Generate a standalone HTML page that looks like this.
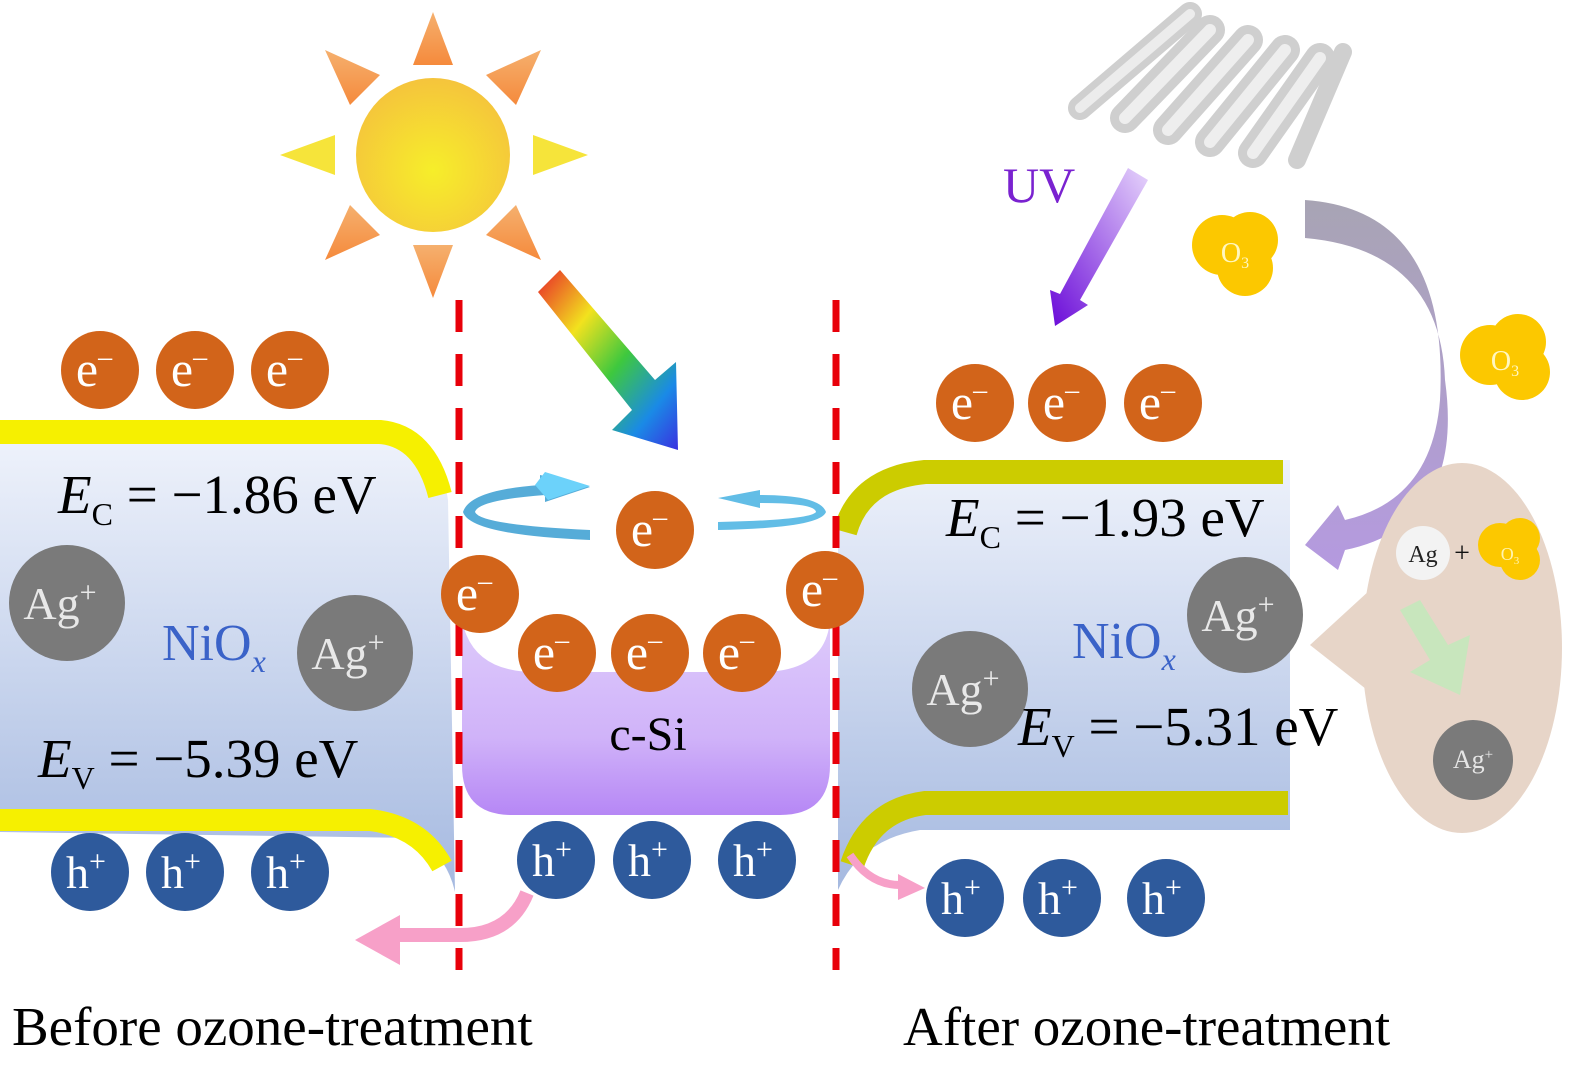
<!DOCTYPE html>
<html><head><meta charset="utf-8"><style>
html,body{margin:0;padding:0;background:#fff;}
svg{display:block;}
text{font-family:"Liberation Serif",serif;}
</style></head><body>
<svg width="1573" height="1065" viewBox="0 0 1573 1065" xmlns="http://www.w3.org/2000/svg">
<defs>
<linearGradient id="blue" x1="0" y1="0" x2="0" y2="1"><stop offset="0" stop-color="#eef2fb"/><stop offset="1" stop-color="#a5b9e0"/></linearGradient>
<linearGradient id="purp" x1="0" y1="0" x2="0" y2="1"><stop offset="0" stop-color="#ddcafb"/><stop offset="0.6" stop-color="#d0b3f9"/><stop offset="1" stop-color="#b687f5"/></linearGradient>
<radialGradient id="sun" cx="0.5" cy="0.6" r="0.6"><stop offset="0" stop-color="#f6ee2a"/><stop offset="1" stop-color="#f5c43c"/></radialGradient>
<linearGradient id="rainbow" x1="0" y1="0" x2="1" y2="1"><stop offset="0" stop-color="#e8242a"/><stop offset="0.3" stop-color="#f2e21e"/><stop offset="0.55" stop-color="#3ec83e"/><stop offset="0.8" stop-color="#1a8ae6"/><stop offset="1" stop-color="#3a30e0"/></linearGradient>
<linearGradient id="uv" x1="1" y1="0" x2="0" y2="1"><stop offset="0" stop-color="#e6d4fb"/><stop offset="1" stop-color="#6a0ad8"/></linearGradient>
<linearGradient id="arc" x1="0" y1="0" x2="0" y2="1"><stop offset="0" stop-color="#a8a4b4"/><stop offset="1" stop-color="#b59ae0"/></linearGradient>
<linearGradient id="ray" x1="0" y1="0" x2="0" y2="1"><stop offset="0" stop-color="#f5b06e"/><stop offset="1" stop-color="#f58a3c"/></linearGradient>
<linearGradient id="rayY" x1="0" y1="0" x2="1" y2="0"><stop offset="0" stop-color="#f6e43a"/><stop offset="1" stop-color="#f7d050"/></linearGradient>
</defs>

<!-- Left block -->
<path d="M0,440 L395,440 Q440,445 448,500 L455,892 Q448,860 420,838 L0,832 Z" fill="url(#blue)"/>
<path d="M0,432 L380,432 Q425,436 440,495" fill="none" stroke="#f6f000" stroke-width="24"/>
<path d="M0,820 L370,820 Q420,826 442,866" fill="none" stroke="#f6f000" stroke-width="22"/>

<!-- Right block -->
<path d="M838,535 Q850,470 920,462 L1290,460 L1290,830 L920,830 Q860,840 838,890 Z" fill="url(#blue)"/>
<path d="M845,532 Q860,478 925,472 L1283,472" fill="none" stroke="#cccc00" stroke-width="24"/>
<path d="M1288,803 L925,803 Q870,810 852,865" fill="none" stroke="#cccc00" stroke-width="24"/>

<!-- c-Si -->
<path d="M462,620 Q472,672 535,672 L765,672 Q826,670 830,620 L830,765 Q830,815 780,815 L512,815 Q462,815 462,765 Z" fill="url(#purp)"/>
<text x="648" y="750" font-size="48" text-anchor="middle" fill="#000">c-Si</text>

<!-- dashed lines -->
<line x1="459" y1="300" x2="459" y2="970" stroke="#e8000a" stroke-width="7" stroke-dasharray="32,22"/>
<line x1="836" y1="300" x2="836" y2="970" stroke="#e8000a" stroke-width="7" stroke-dasharray="32,22"/>

<!-- Sun -->
<g fill="url(#ray)">
<polygon points="433,12 413,65 453,65"/>
<polygon points="433,298 413,245 453,245"/>
<polygon points="325,50 380,75 350,105"/>
<polygon points="541,50 486,75 516,105"/>
<polygon points="325,260 350,205 380,235"/>
<polygon points="541,260 516,205 486,235"/>
</g>
<polygon points="280,155 335,135 335,175" fill="#f6e43a"/>
<polygon points="588,155 533,135 533,175" fill="#f6e43a"/>
<circle cx="433" cy="155" r="80" fill="#fff"/>
<circle cx="433" cy="155" r="77" fill="url(#sun)"/>

<!-- Rainbow arrow -->
<polygon points="538,292 560,270 655,380 676,362 678,450 612,430 632,410" fill="url(#rainbow)"/>

<!-- UV lamp -->
<g stroke-linecap="round" fill="none">
<line x1="1080" y1="108" x2="1190" y2="14" stroke="#cfcfcf" stroke-width="24"/>
<line x1="1080" y1="108" x2="1190" y2="14" stroke="#ececec" stroke-width="10"/>
<line x1="1125" y1="118" x2="1210" y2="30" stroke="#cfcfcf" stroke-width="30"/>
<line x1="1125" y1="118" x2="1210" y2="30" stroke="#eeeeee" stroke-width="12"/>
<line x1="1168" y1="130" x2="1248" y2="40" stroke="#cfcfcf" stroke-width="30"/>
<line x1="1168" y1="130" x2="1248" y2="40" stroke="#eeeeee" stroke-width="12"/>
<line x1="1210" y1="142" x2="1285" y2="50" stroke="#cfcfcf" stroke-width="30"/>
<line x1="1210" y1="142" x2="1285" y2="50" stroke="#eeeeee" stroke-width="12"/>
<line x1="1253" y1="153" x2="1320" y2="58" stroke="#cfcfcf" stroke-width="30"/>
<line x1="1253" y1="153" x2="1320" y2="58" stroke="#eeeeee" stroke-width="12"/>
<line x1="1297" y1="160" x2="1343" y2="52" stroke="#cfcfcf" stroke-width="18"/>
</g>
<text x="1003" y="202" font-size="50" fill="#7a22d0">UV</text>
<polygon points="1128,168 1148,180 1080,300 1088,305 1055,326 1050,290 1060,294" fill="url(#uv)"/>

<!-- O3 -->
<g fill="#fcc800">
<circle cx="1222" cy="245" r="30"/><circle cx="1250" cy="240" r="28"/><circle cx="1245" cy="268" r="28"/>
<circle cx="1490" cy="355" r="30"/><circle cx="1518" cy="342" r="28"/><circle cx="1522" cy="372" r="28"/>
</g>
<text x="1235" y="262" font-size="28" fill="#fff7c0" text-anchor="middle">O<tspan font-size="16" dy="6">3</tspan></text>
<text x="1505" y="370" font-size="28" fill="#fff7c0" text-anchor="middle">O<tspan font-size="16" dy="6">3</tspan></text>

<!-- curved purple arrow -->
<path d="M1305,200 Q1450,210 1440,400 Q1432,500 1345,520 L1338,505 L1305,545 L1338,570 L1345,550 Q1465,525 1445,380 Q1440,250 1305,238 Z" fill="url(#arc)"/>

<!-- speech bubble -->
<ellipse cx="1462" cy="648" rx="100" ry="185" fill="#e7d5c8"/>
<polygon points="1370,590 1310,645 1380,700" fill="#e7d5c8"/>
<circle cx="1423" cy="553" r="27" fill="#f3f3f3"/>
<text x="1423" y="562" font-size="24" text-anchor="middle" fill="#222">Ag</text>
<text x="1462" y="562" font-size="28" text-anchor="middle" fill="#111">+</text>
<g fill="#fcc800"><circle cx="1500" cy="545" r="22"/><circle cx="1520" cy="538" r="20"/><circle cx="1520" cy="560" r="20"/></g>
<text x="1510" y="560" font-size="18" fill="#fff4b0" text-anchor="middle">O<tspan font-size="11" dy="4">3</tspan></text>
<polygon points="1400,610 1420,600 1448,645 1470,635 1460,695 1410,672 1430,660" fill="#c8e6bd"/>
<circle cx="1473" cy="760" r="40" fill="#7a7a7a"/>
<text x="1473" y="768" font-size="26" text-anchor="middle" fill="#e6e6e6">Ag<tspan font-size="15" dy="-9">+</tspan></text>

<!-- rotation arrows -->
<path d="M590,540 Q470,535 463,512 Q470,490 540,485 L540,475 L590,487 L545,502 L545,495 Q478,500 475,512 Q480,525 590,530 Z" fill="#56acd8"/>
<path d="M535,485 L545,472 L590,486 L548,500 Z" fill="#6cd2fa"/>
<path d="M718,530 Q820,528 826,512 Q820,495 760,495 L760,490 L718,498 L760,508 L760,503 Q815,503 816,512 Q810,520 718,522 Z" fill="#62bde6"/>

<!-- electrons -->
<g fill="#d2641a">
<circle cx="100" cy="370" r="39"/><circle cx="195" cy="370" r="39"/><circle cx="290" cy="370" r="39"/>
<circle cx="975" cy="403" r="39"/><circle cx="1067" cy="403" r="39"/><circle cx="1163" cy="403" r="39"/>
<circle cx="655" cy="530" r="39"/><circle cx="480" cy="594" r="39"/><circle cx="825" cy="590" r="39"/>
<circle cx="557" cy="653" r="39"/><circle cx="650" cy="653" r="39"/><circle cx="742" cy="653" r="39"/>
</g>
<g fill="#fff" font-size="50" text-anchor="middle">
<text x="94" y="386">e<tspan font-size="28" dy="-20">–</tspan></text>
<text x="189" y="386">e<tspan font-size="28" dy="-20">–</tspan></text>
<text x="284" y="386">e<tspan font-size="28" dy="-20">–</tspan></text>
<text x="969" y="419">e<tspan font-size="28" dy="-20">–</tspan></text>
<text x="1061" y="419">e<tspan font-size="28" dy="-20">–</tspan></text>
<text x="1157" y="419">e<tspan font-size="28" dy="-20">–</tspan></text>
<text x="649" y="546">e<tspan font-size="28" dy="-20">–</tspan></text>
<text x="474" y="610">e<tspan font-size="28" dy="-20">–</tspan></text>
<text x="819" y="606">e<tspan font-size="28" dy="-20">–</tspan></text>
<text x="551" y="669">e<tspan font-size="28" dy="-20">–</tspan></text>
<text x="644" y="669">e<tspan font-size="28" dy="-20">–</tspan></text>
<text x="736" y="669">e<tspan font-size="28" dy="-20">–</tspan></text>
</g>

<!-- holes -->
<g fill="#2e5a9c">
<circle cx="90" cy="872" r="39"/><circle cx="185" cy="872" r="39"/><circle cx="290" cy="872" r="39"/>
<circle cx="556" cy="860" r="39"/><circle cx="652" cy="860" r="39"/><circle cx="757" cy="860" r="39"/>
<circle cx="965" cy="898" r="39"/><circle cx="1062" cy="898" r="39"/><circle cx="1166" cy="898" r="39"/>
</g>
<g fill="#fff" font-size="46" text-anchor="middle">
<text x="86" y="888">h<tspan font-size="30" dy="-17">+</tspan></text>
<text x="181" y="888">h<tspan font-size="30" dy="-17">+</tspan></text>
<text x="286" y="888">h<tspan font-size="30" dy="-17">+</tspan></text>
<text x="552" y="876">h<tspan font-size="30" dy="-17">+</tspan></text>
<text x="648" y="876">h<tspan font-size="30" dy="-17">+</tspan></text>
<text x="753" y="876">h<tspan font-size="30" dy="-17">+</tspan></text>
<text x="961" y="914">h<tspan font-size="30" dy="-17">+</tspan></text>
<text x="1058" y="914">h<tspan font-size="30" dy="-17">+</tspan></text>
<text x="1162" y="914">h<tspan font-size="30" dy="-17">+</tspan></text>
</g>

<!-- pink arrows -->
<path d="M527,893 Q510,935 460,935 L395,935" fill="none" stroke="#f7a0c8" stroke-width="14"/>
<polygon points="355,940 400,915 400,965" fill="#f7a0c8"/>
<path d="M850,855 Q870,885 900,885" fill="none" stroke="#f7a0c8" stroke-width="8"/>
<polygon points="925,888 898,874 898,900" fill="#f7a0c8"/>

<!-- Ag+ -->
<g fill="#7a7a7a">
<circle cx="67" cy="603" r="58"/><circle cx="355" cy="653" r="58"/>
<circle cx="970" cy="689" r="58"/><circle cx="1245" cy="615" r="58"/>
</g>
<g fill="#e8e8e8" font-size="46" text-anchor="middle">
<text x="60" y="619">Ag<tspan font-size="30" dy="-17">+</tspan></text>
<text x="348" y="669">Ag<tspan font-size="30" dy="-17">+</tspan></text>
<text x="963" y="705">Ag<tspan font-size="30" dy="-17">+</tspan></text>
<text x="1238" y="631">Ag<tspan font-size="30" dy="-17">+</tspan></text>
</g>

<!-- labels -->
<text x="58" y="513" font-size="55" fill="#000"><tspan font-style="italic">E</tspan><tspan font-size="32" dy="12">C</tspan><tspan dy="-12"> = −1.86 eV</tspan></text>
<text x="38" y="777" font-size="55" fill="#000"><tspan font-style="italic">E</tspan><tspan font-size="32" dy="12">V</tspan><tspan dy="-12"> = −5.39 eV</tspan></text>
<text x="162" y="660" font-size="52" fill="#3a62c8">NiO<tspan font-style="italic" font-size="32" dy="12">x</tspan></text>
<text x="946" y="536" font-size="55" fill="#000"><tspan font-style="italic">E</tspan><tspan font-size="32" dy="12">C</tspan><tspan dy="-12"> = −1.93 eV</tspan></text>
<text x="1018" y="745" font-size="55" fill="#000"><tspan font-style="italic">E</tspan><tspan font-size="32" dy="12">V</tspan><tspan dy="-12"> = −5.31 eV</tspan></text>
<text x="1072" y="658" font-size="52" fill="#3a62c8">NiO<tspan font-style="italic" font-size="32" dy="12">x</tspan></text>

<text x="12" y="1045" font-size="55" fill="#000">Before ozone-treatment</text>
<text x="903" y="1045" font-size="55" fill="#000">After ozone-treatment</text>
</svg>
</body></html>
